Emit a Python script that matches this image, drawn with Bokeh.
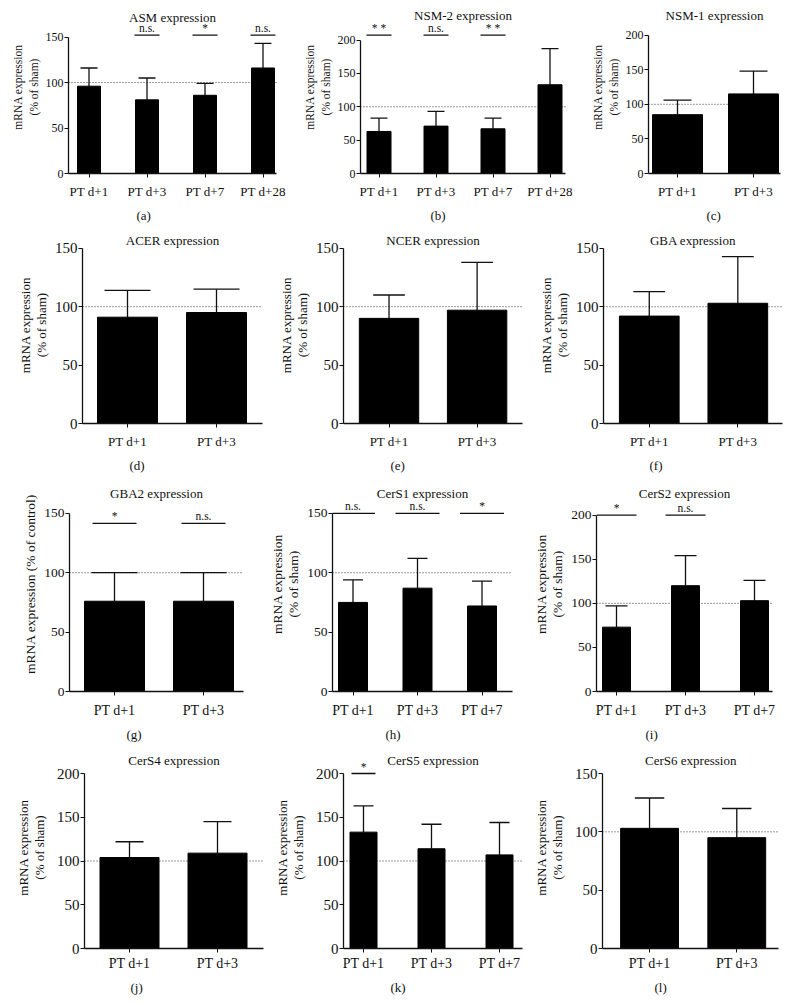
from bokeh.plotting import figure
from bokeh.layouts import column, row
from bokeh.models import Range1d, FixedTicker, Title, ColumnDataSource
from bokeh.core.properties import value
from bokeh.embed import file_html
from bokeh.resources import INLINE

FONT = "Liberation Serif"

# ---------------- data ----------------
cats_2 = ["PT d+1", "PT d+3"]
cats_3 = ["PT d+1", "PT d+3", "PT d+7"]
cats_4 = ["PT d+1", "PT d+3", "PT d+7", "PT d+28"]

y_ticks_150 = [0, 50, 100, 150]
y_ticks_200 = [0, 50, 100, 150, 200]
sham_level = 100

asm_mean = [96, 81, 86, 116]
asm_err = [20, 24, 13, 27]
asm_sig = ["", "n.s.", "*", "n.s."]

nsm2_mean = [63, 71, 67, 133]
nsm2_err = [20, 22, 16, 54]
nsm2_sig = ["* *", "n.s.", "* *", ""]

nsm1_mean = [85, 115]
nsm1_err = [21, 33]

acer_mean = [91, 95]
acer_err = [23, 20]

ncer_mean = [90, 97]
ncer_err = [20, 41]

gba_mean = [92, 103]
gba_err = [21, 40]

gba2_mean = [76, 76]
gba2_err = [24, 24]
gba2_sig = ["*", "n.s."]

cers1_mean = [75, 87, 72]
cers1_err = [19, 25, 21]
cers1_sig = ["n.s.", "n.s.", "*"]

cers2_mean = [73, 120, 103]
cers2_err = [24, 34, 23]
cers2_sig = ["*", "n.s.", ""]

cers4_mean = [104, 109]
cers4_err = [18, 36]

cers5_mean = [133, 114, 107]
cers5_err = [30, 28, 37]
cers5_sig = ["*", "", ""]

cers6_mean = [103, 95]
cers6_err = [26, 25]

YLAB = "mRNA expression\n(% of sham)"

# ---------------- layout (page pixel positions) ----------------
ROWS = [(0, 226), (226, 250), (476, 270), (746, 258)]
ROW_FONTS = [
    dict(tick="12px", cat="13px", ylab="11.5px", title="13px", sub="13px", sig="11.5px", ystand=3, lh=1.3, cstand=6, tstand=8),
    dict(tick="15px", cat="13px", ylab="13px", title="13px", sub="13px", sig="11.5px", ystand=3, lh=1.1, cstand=6, tstand=8),
    dict(tick="13.5px", cat="14px", ylab="13.5px", title="13px", sub="13px", sig="11.5px", ystand=3, lh=1.1, cstand=7, tstand=9),
    dict(tick="15px", cat="14px", ylab="13px", title="13px", sub="13px", sig="11.5px", ystand=7, lh=1.1, cstand=3, tstand=9),
]

LAY = {
    "a": dict(row=0, col=(0, 290), ax=68, end=276, c0=88.5, sp=58, bw=23, ymax_px=37, zero=175, title_px=17, sig_px=35, sig_w=25, sub_cx=143, cap=17),
    "b": dict(row=0, col=(290, 580), ax=360, end=565, c0=378.5, sp=57, bw=24, ymax_px=40, zero=175, title_px=15, sig_px=35, sig_w=25, sub_cx=437, cap=17),
    "c": dict(row=0, col=(580, 799), ax=648, end=780, c0=677, sp=76, bw=50, ymax_px=35, zero=175, title_px=15, sig_px=35, sig_w=40, sub_cx=713, cap=28),
    "d": dict(row=1, col=(0, 275), ax=82, end=262, c0=127, sp=89, bw=60, ymax_px=248, zero=425, title_px=240, sig_px=248, sig_w=44, sub_cx=136, cap=46),
    "e": dict(row=1, col=(275, 535), ax=341, end=522, c0=387, sp=89, bw=60, ymax_px=248, zero=425, title_px=240, sig_px=248, sig_w=44, sub_cx=395, cap=32),
    "f": dict(row=1, col=(535, 799), ax=602, end=782, c0=648, sp=89, bw=60, ymax_px=248, zero=424, title_px=240, sig_px=248, sig_w=44, sub_cx=655, cap=32),
    "g": dict(row=2, col=(0, 255), ax=69, end=243, c0=114, sp=89, bw=60, ymax_px=513, zero=692, title_px=493, sig_px=523, sig_w=44, sub_cx=133, cap=46),
    "h": dict(row=2, col=(255, 525), ax=332, end=512, c0=352.5, sp=64.5, bw=29, ymax_px=513, zero=692, title_px=493, sig_px=513, sig_w=44, sub_cx=392, cap=20),
    "i": dict(row=2, col=(525, 799), ax=596, end=772, c0=616, sp=69, bw=28, ymax_px=515, zero=693, title_px=493, sig_px=515, sig_w=40, sub_cx=652, cap=22),
    "j": dict(row=3, col=(0, 270), ax=84, end=263, c0=129, sp=88, bw=59, ymax_px=773, zero=948, title_px=760, sig_px=773, sig_w=40, sub_cx=137, cap=28),
    "k": dict(row=3, col=(270, 530), ax=343, end=522, c0=363, sp=68, bw=27, ymax_px=773, zero=948, title_px=760, sig_px=773, sig_w=24, sub_cx=397, cap=20),
    "l": dict(row=3, col=(530, 799), ax=598, end=778, c0=646, sp=89, bw=59, ymax_px=773, zero=948, title_px=760, sig_px=773, sig_w=40, sub_cx=657, cap=30),
}

PANELS = [
    ("a", "ASM expression", cats_4, asm_mean, asm_err, asm_sig, y_ticks_150, YLAB),
    ("b", "NSM-2 expression", cats_4, nsm2_mean, nsm2_err, nsm2_sig, y_ticks_200, YLAB),
    ("c", "NSM-1 expression", cats_2, nsm1_mean, nsm1_err, None, y_ticks_200, YLAB),
    ("d", "ACER expression", cats_2, acer_mean, acer_err, None, y_ticks_150, YLAB),
    ("e", "NCER expression", cats_2, ncer_mean, ncer_err, None, y_ticks_150, YLAB),
    ("f", "GBA expression", cats_2, gba_mean, gba_err, None, y_ticks_150, YLAB),
    ("g", "GBA2 expression", cats_2, gba2_mean, gba2_err, gba2_sig, y_ticks_150, "mRNA expression (% of control)"),
    ("h", "CerS1 expression", cats_3, cers1_mean, cers1_err, cers1_sig, y_ticks_150, YLAB),
    ("i", "CerS2 expression", cats_3, cers2_mean, cers2_err, cers2_sig, y_ticks_200, YLAB),
    ("j", "CerS4 expression", cats_2, cers4_mean, cers4_err, None, y_ticks_200, YLAB),
    ("k", "CerS5 expression", cats_3, cers5_mean, cers5_err, cers5_sig, y_ticks_200, YLAB),
    ("l", "CerS6 expression", cats_2, cers6_mean, cers6_err, None, y_ticks_150, YLAB),
]


def make_panel(key, title, cats, mean, err, sig, yticks, ylabel):
    L = LAY[key]
    F = ROW_FONTS[L["row"]]
    top, h = ROWS[L["row"]]
    left, right = L["col"]
    ymax = yticks[-1]
    k = (L["zero"] - L["ymax_px"]) / ymax          # px per data unit
    sp = L["sp"]
    x0 = (L["ax"] - L["c0"]) / sp
    x1 = (right - L["c0"]) / sp
    xend = (L["end"] - L["c0"]) / sp
    y1 = (L["zero"] - top) / k

    p = figure(width=right - left, height=h,
               x_range=Range1d(x0, x1), y_range=Range1d(0, y1),
               output_backend="svg", toolbar_location=None,
               min_border_left=L["ax"] - left, min_border_right=0,
               min_border_top=0, min_border_bottom=top + h - L["zero"])
    p.outline_line_color = None
    p.xgrid.visible = False
    p.ygrid.visible = False
    p.background_fill_color = "white"
    p.border_fill_color = "white"

    xs = list(range(len(cats)))
    bw = L["bw"] / sp
    cw = L["cap"] / sp / 2
    upper = [m + e for m, e in zip(mean, err)]

    # sham reference line
    p.segment(x0=[x0], y0=[sham_level], x1=[xend], y1=[sham_level],
              line_color="#333333", line_width=1, line_dash="1 2")

    src = ColumnDataSource(dict(x=xs, top=mean, up=upper,
                                cl=[x - cw for x in xs], cr=[x + cw for x in xs]))
    p.segment(x0="x", y0="top", x1="x", y1="up", source=src, line_color="#111111", line_width=1.3)
    p.segment(x0="cl", y0="up", x1="cr", y1="up", source=src, line_color="#111111", line_width=1.3)
    p.vbar(x="x", top="top", bottom=0, width=bw, source=src,
           fill_color="#000000", line_color="#000000", line_width=1)

    # significance markers
    if sig:
        ys = (L["zero"] - L["sig_px"]) / k
        yt = (L["zero"] - L["sig_px"] + 7) / k
        hw = L["sig_w"] / sp / 2
        sx, st = [], []
        for i, s in enumerate(sig):
            if s:
                sx.append(i)
                st.append(s)
        p.segment(x0=[x - hw for x in sx], y0=[ys] * len(sx), x1=[x + hw for x in sx], y1=[ys] * len(sx),
                  line_color="#111111", line_width=1.3)
        p.text(x=sx, y=[yt] * len(sx), text=st, text_align="center", text_baseline="middle",
               text_font=value(FONT), text_font_style="normal",
               text_font_size=F["sig"], text_color="#111111")

    # panel title
    p.text(x=[(x0 + xend) / 2], y=[(L["zero"] - L["title_px"]) / k], text=[title],
           text_align="center", text_baseline="middle", text_font_style="normal",
           text_font=value(FONT), text_font_size=F["title"], text_color="#111111")

    # axes
    xa = p.xaxis[0]
    xa.ticker = FixedTicker(ticks=xs)
    xa.major_label_overrides = {i: c for i, c in enumerate(cats)}
    xa.bounds = (x0, xend)
    xa.minor_tick_line_color = None
    xa.major_tick_in = 0
    xa.major_tick_out = 4
    xa.major_label_standoff = F["cstand"]
    xa.major_label_text_font = FONT
    xa.major_label_text_font_size = F["cat"]
    xa.major_label_text_color = "#111111"
    xa.axis_line_width = 1.3
    xa.axis_line_color = "#111111"
    xa.major_tick_line_color = "#111111"

    ya = p.yaxis[0]
    ya.ticker = FixedTicker(ticks=yticks)
    ya.bounds = (0, ymax)
    ya.minor_tick_line_color = None
    ya.major_tick_in = 0
    ya.major_tick_out = 4
    ya.major_label_standoff = 1
    ya.major_label_text_font = FONT
    ya.major_label_text_font_size = F["tick"]
    ya.major_label_text_color = "#111111"
    ya.axis_line_width = 1.3
    ya.axis_line_color = "#111111"
    ya.major_tick_line_color = "#111111"
    ya.axis_label = ylabel
    ya.axis_label_text_font = FONT
    ya.axis_label_text_font_style = "normal"
    ya.axis_label_text_font_size = F["ylab"]
    ya.axis_label_text_line_height = F["lh"]
    ya.axis_label_text_color = "#111111"
    ya.axis_label_standoff = F["ystand"]

    sub = Title(text="(" + key + ")", align="left", offset=L["sub_cx"] - L["ax"] - 7,
                text_font=FONT, text_font_style="normal", text_font_size=F["sub"],
                text_color="#111111", standoff=F["tstand"])
    p.add_layout(sub, "below")
    return p


figs = [make_panel(*args) for args in PANELS]
layout = column(row(*figs[0:3]), row(*figs[3:6]), row(*figs[6:9]), row(*figs[9:12]))

open("out.html", "w").write(file_html(layout, INLINE))
